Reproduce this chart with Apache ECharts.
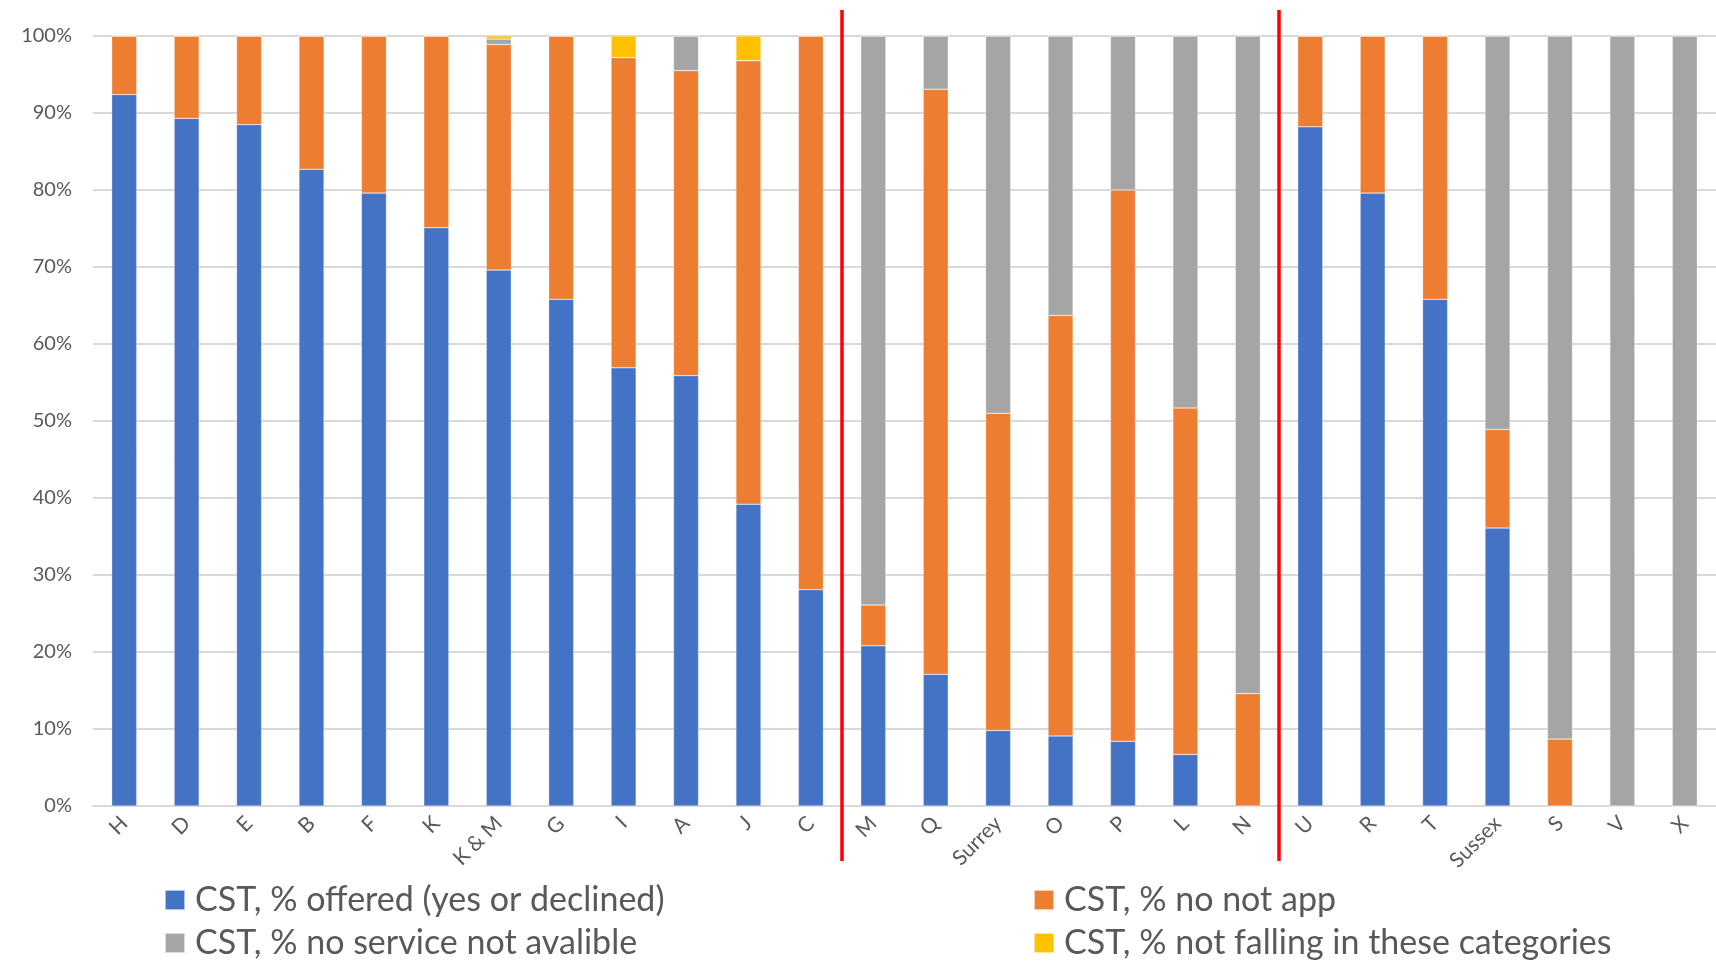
<!DOCTYPE html>
<html>
<head>
<meta charset="utf-8">
<title>CST by area</title>
<script src="https://cdn.jsdelivr.net/npm/echarts@6/dist/echarts.min.js"></script>
<style>
  html, body { margin: 0; padding: 0; background: #fff; }
  #chart { width: 1716px; height: 966px; }
</style>
</head>
<body>
<div id="chart"></div>
<script>
// categories, left to right
const areas = ["H", "D", "E", "B", "F", "K", "K & M", "G", "I", "A", "J", "C",
  "M", "Q", "Surrey", "O", "P", "L", "N",
  "U", "R", "T", "Sussex", "S", "V", "X"];

// values in %
const offered = [92.4, 89.3, 88.5, 82.7, 79.6, 75.1, 69.6, 65.8, 56.9, 55.9, 39.2, 28.1,
  20.8, 17.1, 9.8, 9.1, 8.4, 6.7, 0,
  88.2, 79.6, 65.8, 36.1, 0, 0, 0];
const noNotApp = [7.6, 10.7, 11.5, 17.3, 20.4, 24.9, 29.3, 34.2, 40.3, 39.6, 57.6, 71.9,
  5.3, 76.0, 41.2, 54.6, 71.6, 45.0, 14.6,
  11.8, 20.4, 34.2, 12.8, 8.7, 0, 0];
const noService = [0, 0, 0, 0, 0, 0, 0.7, 0, 0, 4.5, 0, 0,
  73.9, 6.9, 49.0, 36.3, 20.0, 48.3, 85.4,
  0, 0, 0, 51.1, 91.3, 100, 100];
const notFalling = [0, 0, 0, 0, 0, 0, 0.4, 0, 2.8, 0, 3.2, 0,
  0, 0, 0, 0, 0, 0, 0,
  0, 0, 0, 0, 0, 0, 0];

const seriesNames = [
  "CST, % offered (yes or declined)",
  "CST, % no not app",
  "CST, % no service not avalible",
  "CST, % not falling in these categories"
];
const yTicks = [0, 100, 10]; // min, max, step

// group dividers sit after these categories
const dividerAfter = ["C", "N"];

const FONT = "Lato, 'Open Sans', sans-serif";
const TXT = "#595959";
const colors = ["#4472C4", "#ED7D31", "#A5A5A5", "#FFC000"];

const chart = echarts.init(document.getElementById("chart"), null, { renderer: "canvas" });

function barSeries(name, data, i) {
  return {
    name: name,
    type: "bar",
    stack: "total",
    data: data,
    barWidth: 25,
    itemStyle: { color: colors[i], borderColor: "rgba(255,255,255,0.6)", borderWidth: 0.5 },
    emphasis: { disabled: true }
  };
}

// legend laid out as 2 x 2, one legend block per entry
const legendSpots = [[164, 882], [1033, 882], [164, 925], [1033, 925]];
const legends = seriesNames.map((n, i) => ({
  left: legendSpots[i][0],
  top: legendSpots[i][1],
  padding: 0,
  itemWidth: 20,
  itemHeight: 20,
  itemGap: 0,
  icon: "rect",
  textStyle: { color: TXT, fontSize: 34, fontFamily: FONT, lineHeight: 36, padding: [0, 0, 0, 5] },
  data: [n]
}));

chart.setOption({
  animation: false,
  textStyle: { fontFamily: FONT },
  grid: { left: 93, right: -4, top: 36, bottom: 160, containLabel: false },
  legend: legends,
  xAxis: {
    type: "category",
    data: areas,
    axisLine: { lineStyle: { color: "#d9d9d9", width: 2 } },
    axisTick: { show: false },
    axisLabel: { color: TXT, fontSize: 21, fontFamily: FONT, rotate: 45, margin: 14, interval: 0 }
  },
  yAxis: {
    type: "value",
    min: yTicks[0],
    max: yTicks[1],
    interval: yTicks[2],
    axisLine: { show: false },
    axisTick: { show: false },
    axisLabel: { color: TXT, fontSize: 20, fontFamily: FONT, margin: 21, formatter: "{value}%" },
    splitLine: { lineStyle: { color: "#d9d9d9", width: 2 } }
  },
  series: [
    barSeries(seriesNames[0], offered, 0),
    barSeries(seriesNames[1], noNotApp, 1),
    barSeries(seriesNames[2], noService, 2),
    barSeries(seriesNames[3], notFalling, 3)
  ]
});

// red divider lines halfway between groups
const lines = dividerAfter.map((c) => {
  const i = areas.indexOf(c);
  const a = chart.convertToPixel({ xAxisIndex: 0 }, areas[i]);
  const b = chart.convertToPixel({ xAxisIndex: 0 }, areas[i + 1]);
  const x = Math.round((a + b) / 2);
  return {
    type: "line",
    shape: { x1: x, y1: 10, x2: x, y2: 861 },
    style: { stroke: "#FF0000", lineWidth: 3.5 },
    z: 100
  };
});
chart.setOption({ graphic: lines });
</script>
</body>
</html>
